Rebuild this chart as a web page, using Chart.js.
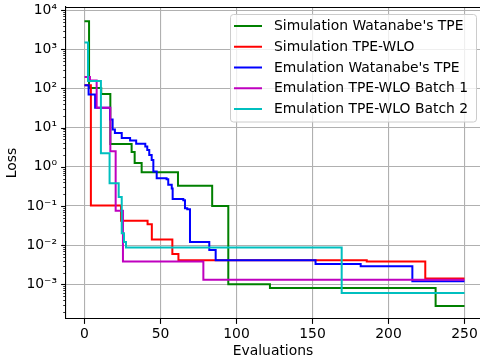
<!DOCTYPE html>
<html>
<head>
<meta charset="utf-8">
<script src="https://cdn.jsdelivr.net/npm/chart.js@4.4.1/dist/chart.umd.min.js"></script>
<style>
  html, body { margin: 0; padding: 0; background: #fff; }
  #wrap { width: 480px; height: 360px; }
</style>
</head>
<body>
<div id="wrap"><canvas id="lossChart" width="480" height="360"></canvas></div>
<script>
// values (step points: value holds from that evaluation on)
const seriesNames = ["Simulation Watanabe's TPE", "Simulation TPE-WLO", "Emulation Watanabe's TPE",
                     "Emulation TPE-WLO Batch 1", "Emulation TPE-WLO Batch 2"];
const seriesColors = ["#008000", "#ff0000", "#0000ff", "#bf00bf", "#00bfbf"];

const simWatEvals = [0, 3, 11, 17, 31, 33, 37.6, 61.5, 84, 94.6, 122, 231, 250];
const simWatLoss  = [5200, 103, 72, 3.8, 2.4, 1.24, 0.73, 0.33, 0.1, 0.001, 0.00081, 0.00028, 0.00028];

const simWloEvals = [0, 4.2, 24, 41.5, 44.3, 57.8, 61.8, 185.7, 224.2, 250];
const simWloLoss  = [120, 0.103, 0.042, 0.034, 0.014, 0.0059, 0.0041, 0.0038, 0.0014, 0.0014];

const emuWatEvals = [0, 2.7, 7, 16.8, 18.5, 20, 24.5, 30, 34, 40, 41.3, 42.6, 44.2, 45.3, 47.5, 54, 55.1,
                     57.4, 58, 65, 66.1, 67.6, 69.4, 82.1, 86.3, 152, 181.7, 215.7, 250];
const emuWatLoss  = [120, 70, 32, 16, 8.9, 7.3, 5.4, 4.7, 3.9, 3.3, 2.7, 2.0, 1.5, 0.76, 0.51, 0.48, 0.35,
                     0.28, 0.15, 0.14, 0.087, 0.082, 0.012, 0.0075, 0.0041, 0.0033, 0.0029, 0.0012, 0.0012];

const emuWlo1Evals = [0, 3.6, 8, 17, 20.5, 25.3, 78.2, 250];
const emuWlo1Loss  = [195, 160, 32, 2.5, 0.075, 0.0038, 0.0013, 0.0013];

const emuWlo2Evals = [0, 2.3, 10.8, 16.5, 22.5, 24.5, 26, 27.3, 169.2, 250];
const emuWlo2Loss  = [1480, 155, 2.2, 0.38, 0.17, 0.02, 0.012, 0.0087, 0.0006, 0.0006];

const xTicks = [0, 50, 100, 150, 200, 250];
const yTickExps = [-3, -2, -1, 0, 1, 2, 3, 4];

const FONT = "'DejaVu Sans', sans-serif";
const FS = 13.9;

function toPoints(xs, ys) {
  return xs.map((x, i) => ({ x: x, y: ys[i] }));
}

const sup = { '-': '\u207B', '0': '\u2070', '1': '\u00B9', '2': '\u00B2', '3': '\u00B3', '4': '\u2074' };
function powLabel(v) {
  const e = Math.round(Math.log10(v));
  return '10' + String(e).split('').map(c => sup[c]).join('');
}

// ticks, top spine and legend the matplotlib way
const decorPlugin = {
  id: 'decor',
  afterDraw(chart) {
    const ctx = chart.ctx;
    const area = chart.chartArea;
    const xs = chart.scales.x, ys = chart.scales.y;
    ctx.save();
    ctx.strokeStyle = '#000';
    // top spine
    ctx.lineWidth = 1.1;
    ctx.beginPath();
    ctx.moveTo(area.left, area.top + 0.5);
    ctx.lineTo(area.right, area.top + 0.5);
    ctx.stroke();
    // x major ticks
    xTicks.forEach(v => {
      const px = Math.round(xs.getPixelForValue(v)) + 0.5;
      ctx.beginPath();
      ctx.moveTo(px, area.bottom);
      ctx.lineTo(px, area.bottom + 4.9);
      ctx.stroke();
    });
    // y major + minor ticks
    for (let e = -4; e <= 4; e++) {
      for (let m = 1; m <= 9; m++) {
        const v = m * Math.pow(10, e);
        if (v < ys.min || v > ys.max) continue;
        const py = Math.round(ys.getPixelForValue(v)) + 0.5;
        const len = m === 1 ? 4.9 : 2.8;
        ctx.lineWidth = m === 1 ? 1.1 : 0.8;
        ctx.beginPath();
        ctx.moveTo(area.left, py);
        ctx.lineTo(area.left - len, py);
        ctx.stroke();
      }
    }
    // legend
    const bx = 230.5, by = 14.5, bw = 246, bh = 107.5, r = 3;
    ctx.beginPath();
    ctx.moveTo(bx + r, by);
    ctx.arcTo(bx + bw, by, bx + bw, by + bh, r);
    ctx.arcTo(bx + bw, by + bh, bx, by + bh, r);
    ctx.arcTo(bx, by + bh, bx, by, r);
    ctx.arcTo(bx, by, bx + bw, by, r);
    ctx.closePath();
    ctx.fillStyle = 'rgba(255,255,255,0.8)';
    ctx.fill();
    ctx.strokeStyle = '#cccccc';
    ctx.lineWidth = 1;
    ctx.stroke();
    ctx.font = FS + 'px ' + FONT;
    ctx.textBaseline = 'middle';
    ctx.textAlign = 'left';
    chart.data.datasets.forEach((ds, i) => {
      const y = 26 + i * 20.75;
      ctx.strokeStyle = ds.borderColor;
      ctx.lineWidth = 2;
      ctx.beginPath();
      ctx.moveTo(234, y);
      ctx.lineTo(262, y);
      ctx.stroke();
      ctx.fillStyle = '#000';
      ctx.fillText(ds.label, 274, y + 0.5);
    });
    ctx.restore();
  }
};

const allEvals = [simWatEvals, simWloEvals, emuWatEvals, emuWlo1Evals, emuWlo2Evals];
const allLoss = [simWatLoss, simWloLoss, emuWatLoss, emuWlo1Loss, emuWlo2Loss];

const datasets = seriesNames.map((name, i) => ({
  label: name,
  data: toPoints(allEvals[i], allLoss[i]),
  borderColor: seriesColors[i],
  backgroundColor: seriesColors[i],
  borderWidth: 2,
  pointRadius: 0,
  stepped: true,
  fill: false,
  order: seriesNames.length - i
}));

Chart.defaults.font.family = FONT;
Chart.defaults.font.size = FS;
Chart.defaults.color = '#000';

new Chart(document.getElementById('lossChart').getContext('2d'), {
  type: 'line',
  data: { datasets: datasets },
  options: {
    responsive: false,
    animation: false,
    devicePixelRatio: 1,
    layout: { padding: { top: 7, right: 0, left: 0, bottom: 0 } },
    plugins: { legend: { display: false }, tooltip: { enabled: false } },
    scales: {
      x: {
        type: 'linear',
        min: -12.17,
        max: 260.2,
        afterBuildTicks: s => { s.ticks = xTicks.map(v => ({ value: v })); },
        afterFit: s => { s.height = 41; s.paddingLeft = 0; s.paddingRight = 0; },
        ticks: { padding: 7, maxRotation: 0, autoSkip: false, font: { size: FS } },
        grid: { color: '#b0b0b0', lineWidth: 1.1, drawTicks: false },
        border: { display: true, color: '#000', width: 1.1 },
        title: { display: true, text: 'Evaluations', font: { size: FS }, padding: { top: 0, bottom: 0 } }
      },
      y: {
        type: 'logarithmic',
        min: 1.3e-4,
        max: 1.2e4,
        afterBuildTicks: s => { s.ticks = yTickExps.map(e => ({ value: Number('1e' + e) })); },
        afterFit: s => { s.width = 66; s.paddingTop = 0; s.paddingBottom = 0; },
        ticks: { padding: 9, autoSkip: false, font: { size: FS }, callback: v => powLabel(v) },
        grid: { color: '#b0b0b0', lineWidth: 1.1, drawTicks: false },
        border: { display: true, color: '#000', width: 1.1 },
        title: { display: true, text: 'Loss', font: { size: FS }, padding: { top: 4, bottom: 0 } }
      }
    }
  },
  plugins: [decorPlugin]
});
</script>
</body>
</html>
